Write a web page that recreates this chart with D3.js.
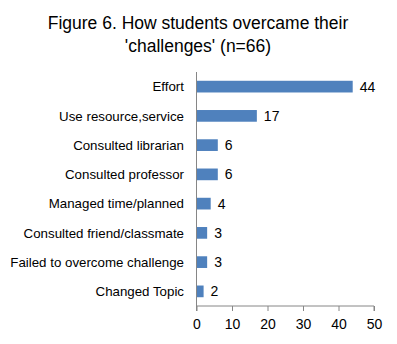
<!DOCTYPE html>
<html><head><meta charset="utf-8">
<script src="https://cdn.jsdelivr.net/npm/d3@7"></script>
<style>body{margin:0;background:#fff}svg{display:block}text{font-family:"Liberation Sans",Arial,sans-serif;fill:#000}</style>
</head><body><svg id="c" width="397" height="344"></svg>
<script>
const categories = ["Effort","Use resource,service","Consulted librarian","Consulted professor","Managed time/planned","Consulted friend/classmate","Failed to overcome challenge","Changed Topic"];
const values = [44,17,6,6,4,3,3,2];
const ticks = [0,10,20,30,40,50];
const titleLines = ["Figure 6. How students overcame their","'challenges' (n=66)"];

const svg = d3.select("#c");
const m = {left:196.5, right:374, top:72, bottom:306};
const x = d3.scaleLinear().domain([0,50]).range([m.left,m.right]);
const y = d3.scaleBand().domain(categories).range([m.top,m.bottom]).paddingInner(0.6).paddingOuter(0.3);

svg.append("g").selectAll("text").data(titleLines).join("text")
  .attr("x",198).attr("y",(d,i)=>29+i*23).attr("text-anchor","middle")
  .style("font-size","17.5px").text(d=>d);

svg.append("g").selectAll("rect").data(values).join("rect")
  .attr("x",x(0)).attr("y",(d,i)=>y(categories[i]))
  .attr("width",d=>x(d)-x(0)).attr("height",y.bandwidth()).attr("fill","#4F81BD");

svg.append("g").selectAll("text").data(values).join("text")
  .attr("x",d=>x(d)+7).attr("y",(d,i)=>y(categories[i])+y.bandwidth()/2).attr("dy","0.35em")
  .style("font-size","14px").text(d=>d);

svg.append("g").selectAll("text").data(categories).join("text")
  .attr("x",184).attr("y",d=>y(d)+y.bandwidth()/2).attr("dy","0.35em").attr("text-anchor","end")
  .style("font-size","13.3px").text(d=>d);

const xa = svg.append("g").attr("transform",`translate(0,${m.bottom})`)
  .call(d3.axisBottom(x).tickValues(ticks).tickSize(5).tickPadding(8).tickFormat(d3.format("d")));
xa.select(".domain").attr("stroke","#868686").attr("d",`M${m.left},5V0H${m.right}V5`);
xa.selectAll(".tick line").attr("stroke","#868686");
xa.selectAll(".tick text").style("font-size","14px").attr("font-family",null);

svg.append("line").attr("x1",m.left).attr("x2",m.left).attr("y1",m.top).attr("y2",m.bottom).attr("stroke","#868686");
</script></body></html>
